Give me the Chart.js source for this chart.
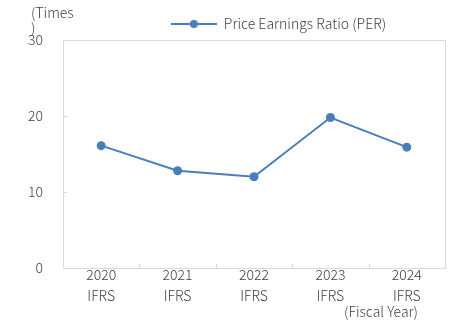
<!DOCTYPE html>
<html><head><meta charset="utf-8">
<script src="https://cdn.jsdelivr.net/npm/chart.js@4"></script>
<style>html,body{margin:0;padding:0;background:#fff}#wrap{width:455px;height:330px}</style>
</head><body><div id="wrap"><canvas id="c"></canvas></div>
<script>
// PER by fiscal year
const fiscalYears = ['2020', '2021', '2022', '2023', '2024'];
const standards = ['IFRS', 'IFRS', 'IFRS', 'IFRS', 'IFRS'];
const perValues = [16.1, 12.8, 12.0, 19.8, 15.9];
const yTicks = [0, 10, 20, 30];
const seriesName = 'Price Earnings Ratio (PER)';
const unitLabel = ['(Times', ')'];
const axisNote = '(Fiscal Year)';

const FONT = '"Noto Sans CJK JP", "Noto Sans", sans-serif';
const FSIZE = 14;
const FWEIGHT = 300;
const TEXT = '#404040';
const LINE = '#4a7ebb';
const FRAME = '#d9d9d9';

// legend symbol: line with a dot
const sym = document.createElement('canvas');
sym.width = 46; sym.height = 10;
(function () {
  const g = sym.getContext('2d');
  g.strokeStyle = LINE; g.lineWidth = 2;
  g.beginPath(); g.moveTo(0, 5); g.lineTo(46, 5); g.stroke();
  g.fillStyle = LINE;
  g.beginPath(); g.arc(23, 5, 4, 0, Math.PI * 2); g.fill();
})();

const framePlugin = {
  id: 'frame',
  afterLayout(chart) {
    // move legend to sit right of centre
    const lg = chart.legend;
    if (lg) { lg.left += 56; lg.right += 56; lg.top += 1; lg.bottom += 1; }
  },
  beforeDatasetsDraw(chart) {
    const { ctx, chartArea: a, scales } = chart;
    ctx.save();
    ctx.strokeStyle = FRAME; ctx.lineWidth = 1;
    ctx.strokeRect(Math.round(a.left) + 0.5, Math.round(a.top) + 0.5,
      Math.round(a.right - a.left), Math.round(a.bottom - a.top));
    // inward tick marks
    ctx.beginPath();
    yTicks.forEach(v => {
      const y = Math.round(scales.y.getPixelForValue(v)) + 0.5;
      ctx.moveTo(a.left, y); ctx.lineTo(a.left + 4, y);
    });
    for (let i = 0; i < fiscalYears.length - 1; i++) {
      const x = Math.round((scales.x.getPixelForTick(i) + scales.x.getPixelForTick(i + 1)) / 2) + 0.5;
      ctx.moveTo(x, a.bottom); ctx.lineTo(x, a.bottom - 4);
    }
    ctx.stroke();
    ctx.restore();
  },
  afterDraw(chart) {
    const { ctx } = chart;
    ctx.save();
    ctx.fillStyle = TEXT;
    ctx.font = FWEIGHT + ' ' + FSIZE + 'px ' + FONT;
    ctx.textBaseline = 'middle';
    ctx.textAlign = 'left';
    ctx.fillText(unitLabel[0], 31, 13);
    ctx.fillText(unitLabel[1], 31, 28);
    ctx.textAlign = 'right';
    ctx.fillText(axisNote, 418, 312);
    ctx.restore();
  }
};

new Chart(document.getElementById('c'), {
  type: 'line',
  data: {
    labels: fiscalYears.map((y, i) => [y, standards[i]]),
    datasets: [{
      label: seriesName,
      data: perValues,
      borderColor: LINE,
      backgroundColor: LINE,
      borderWidth: 2,
      pointRadius: 4.5,
      pointHoverRadius: 4.5,
      pointBackgroundColor: LINE,
      pointBorderWidth: 0,
      tension: 0,
      pointStyle: 'circle'
    }]
  },
  options: {
    responsive: true,
    maintainAspectRatio: false,
    animation: false,
    events: [],
    layout: { padding: { left: 0, right: 10, top: 6, bottom: 0 } },
    plugins: {
      tooltip: { enabled: false },
      legend: {
        display: true,
        position: 'top',
        labels: {
          usePointStyle: true,
          pointStyleWidth: 46,
          boxHeight: 10,
          color: TEXT,
          font: { family: FONT, size: FSIZE, weight: FWEIGHT },
          padding: 10,
          generateLabels: () => [{ text: seriesName, pointStyle: sym, fillStyle: LINE, strokeStyle: LINE, lineWidth: 0, fontColor: TEXT }]
        }
      }
    },
    scales: {
      x: {
        offset: true,
        grid: { display: false, drawTicks: false },
        border: { display: false },
        ticks: {
          color: TEXT,
          font: { family: FONT, size: FSIZE, weight: FWEIGHT, lineHeight: 1.5 },
          padding: -4,
          maxRotation: 0,
          autoSkip: false
        },
        afterFit(s) { s.height = 62; }
      },
      y: {
        min: 0, max: 30,
        afterBuildTicks(s) { s.ticks = yTicks.map(v => ({ value: v })); },
        grid: { display: false, drawTicks: false },
        border: { display: false },
        ticks: {
          color: TEXT,
          font: { family: FONT, size: FSIZE, weight: FWEIGHT },
          padding: 20
        },
        afterFit(s) { s.width = 63; }
      }
    }
  },
  plugins: [framePlugin]
});
</script>
</body></html>
